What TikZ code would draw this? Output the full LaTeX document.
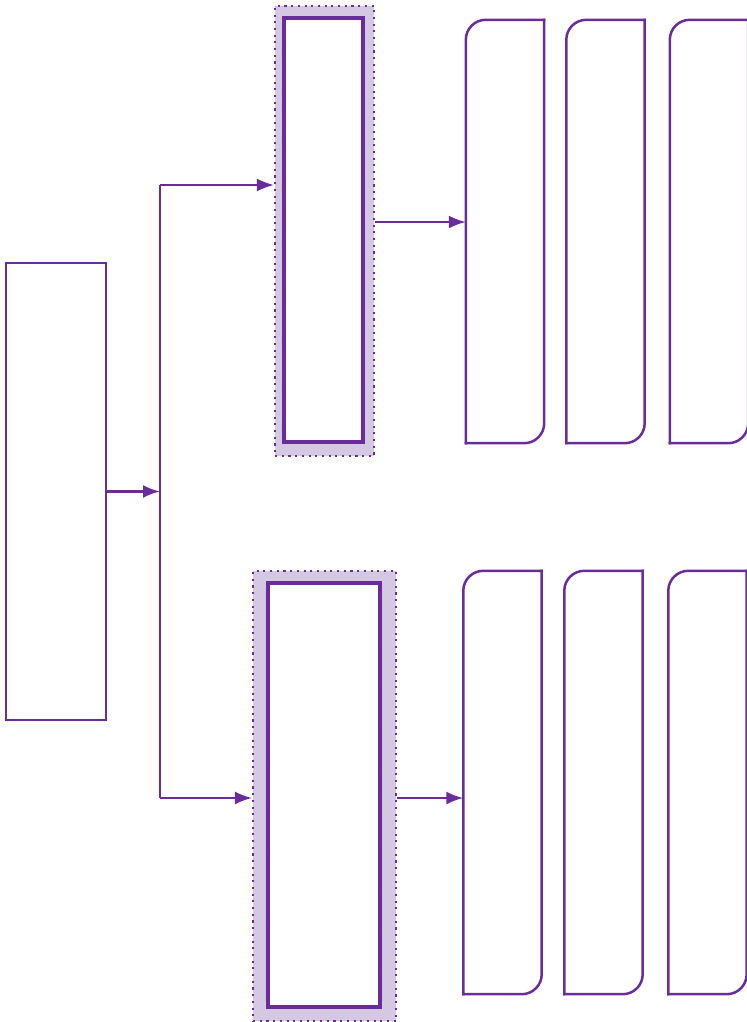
\documentclass[tikz,border=0pt]{standalone}
\usetikzlibrary{arrows.meta}
\definecolor{PathPurple}{HTML}{6A2C9B}
\definecolor{ShadeLilac}{HTML}{D4C8E3}

% outline with only the top-left and bottom-right corners rounded
\newcommand{\leafoutline}[1]{%
  \draw[leafline] (#1.south west) |- (#1.north east);
  \draw[leafline] (#1.north east) |- (#1.south west);}

\begin{document}
\begin{tikzpicture}[x=1bp, y=-1bp,
    flow/.style={draw=PathPurple, line width=2.2bp, -{Latex[length=17bp, width=13bp]}},
    shadebox/.style={fill=ShadeLilac, draw=PathPurple, line width=2.1bp, dash pattern=on 2.1bp off 4.6bp, inner sep=0},
    corebox/.style={draw=PathPurple, fill=white, line width=4bp, inner sep=0},
    leafbox/.style={inner sep=0, minimum width=78bp, minimum height=423bp},
    leafline/.style={draw=PathPurple, line width=2.5bp, rounded corners=20bp, line cap=rect}]
    \useasboundingbox (0,0) rectangle (747,1022);

    \node[draw=PathPurple, line width=2.5bp, inner sep=0, minimum width=100bp, minimum height=457bp] (source) at (56,491.5) {};
    \coordinate (split) at (160,491.5);
    \coordinate (upturn) at (160,185);
    \coordinate (downturn) at (160,798);

    \node[shadebox, minimum width=99bp, minimum height=450bp] (upper) at (324.5,231) {};
    \node[corebox, minimum width=79bp, minimum height=424bp] (uppercore) at (323.5,230) {};
    \node[shadebox, minimum width=143bp, minimum height=450bp] (lower) at (324.5,796) {};
    \node[corebox, minimum width=112bp, minimum height=424bp] (lowercore) at (324,795) {};

    \foreach \nm/\cx in {ta/505, tb/605.5, tc/709} {
      \node[leafbox] (\nm) at (\cx,231.5) {};
      \leafoutline{\nm}
    }
    \foreach \nm/\cx in {ba/502.5, bb/603.5, bc/707.5} {
      \node[leafbox] (\nm) at (\cx,782.5) {};
      \leafoutline{\nm}
    }

    \draw[flow] (source.east) -- (split);
    \draw[draw=PathPurple, line width=2.2bp] (upturn) -- (downturn);
    \draw[flow] (upturn) -- (upturn -| upper.west);
    \draw[flow] (downturn) -- (downturn -| lower.west);
    \draw[flow] ([yshift=9bp]upper.east) -- ([yshift=9bp]upper.east -| ta.west);
    \draw[flow] (lower.east |- downturn) -- (downturn -| ba.west);
\end{tikzpicture}
\end{document}
